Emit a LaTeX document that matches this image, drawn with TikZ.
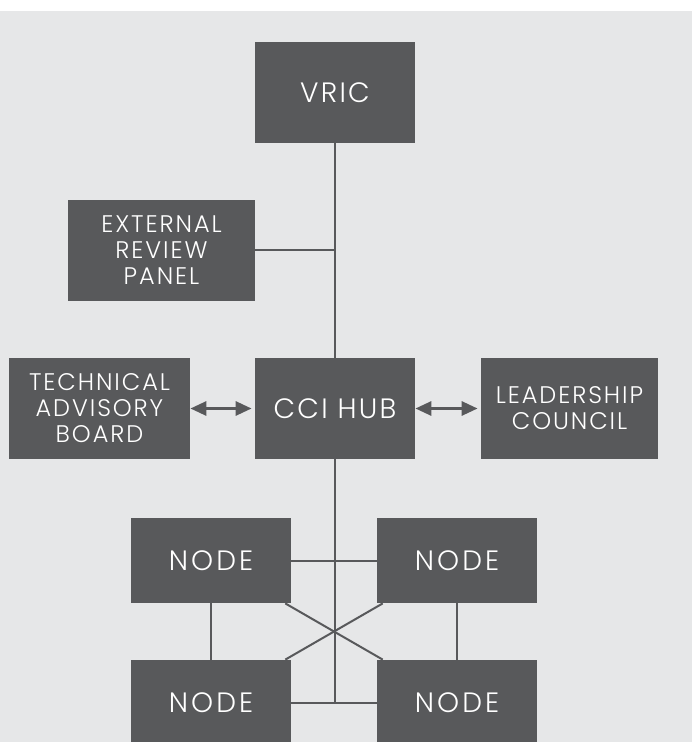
\documentclass[tikz,border=0pt]{standalone}
\usepackage{fontspec}
\setmainfont{Poppins}[UprightFont={* Light},LetterSpace=8]
\usetikzlibrary{arrows.meta}
\definecolor{boxgray}{HTML}{58595B}
\definecolor{bggray}{HTML}{E6E7E8}

\begin{document}
\begin{tikzpicture}[x=0.5pt,y=-0.5pt,
    unit/.style={fill=boxgray,text=white,align=center,inner sep=0pt,
      minimum height=50.5pt,font=\fontsize{12}{13}\selectfont},
    bigunit/.style={unit,minimum width=80pt,font=\fontsize{14}{15}\selectfont},
    hubnode/.style={unit,minimum width=80pt,minimum height=42.5pt,
      font=\fontsize{14}{15}\selectfont\addfontfeature{LetterSpace=11}},
    link/.style={draw=boxgray,line width=1pt},
    twoway/.style={link,line width=1.5pt,{Triangle[length=8pt,width=7pt]}-{Triangle[length=8pt,width=7pt]},shorten >=1.5pt}]
  \clip (0,0) rectangle (692,742);
  \fill[bggray] (0,11) rectangle (692,742);

  % boxes
  \node[bigunit] (vric) at (335,92.5) {VRIC};
  \node[unit,minimum width=93.5pt] (erp) at (161.5,250.5) {EXTERNAL\\REVIEW\\PANEL};
  \node[bigunit] (cci) at (335,408.5) {CCI HUB};
  \node[unit,minimum width=90.5pt] (tab) at (99.5,408.5) {TECHNICAL\\ADVISORY\\BOARD};
  \node[unit,minimum width=88.5pt] (lc) at (569.5,408.5) {LEADERSHIP\\COUNCIL};
  \node[hubnode] (tl) at (211,560.5) {NODE};
  \node[hubnode] (tr) at (457,560.5) {NODE};
  \node[hubnode] (bl) at (211,702.5) {NODE};
  \node[hubnode] (br) at (457,702.5) {NODE};

  % links between the boxes
  \draw[link] (vric) -- (cci);
  \draw[link] (erp.east) -- (erp.east -| vric);
  \draw[link] (cci.south) -- (cci |- bl);
  \draw[link] (tl) -- (tr);
  \draw[link] (bl) -- (br);
  \draw[link] (tl) -- (bl);
  \draw[link] (tr) -- (br);
  \draw[link] (tl) -- (br);
  \draw[link] (tr) -- (bl);
  \draw[twoway] (tab) -- (cci);
  \draw[twoway] (cci) -- (lc);
\end{tikzpicture}
\end{document}
